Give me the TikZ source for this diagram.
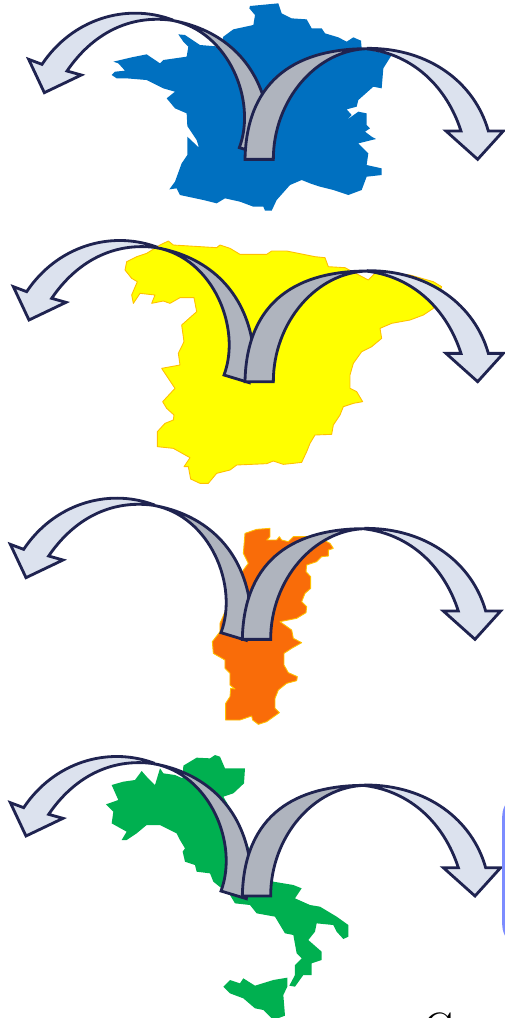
\documentclass[tikz,border=0pt]{standalone}
\usepackage{tikz}
\definecolor{arrowline}{HTML}{1F2350}
\definecolor{arrowlight}{HTML}{DCE2EE}
\definecolor{arrowgray}{HTML}{AFB4BE}
\definecolor{francefill}{HTML}{0070C0}
\definecolor{spainfill}{rgb}{1,1,0}
\definecolor{spainedge}{HTML}{FFC000}
\definecolor{portugalfill}{HTML}{F96C09}
\definecolor{italyfill}{HTML}{00B050}
\definecolor{boxblue}{HTML}{7C8CFF}
\tikzset{
  arrowedge/.style={draw=arrowline,line width=0.8pt,line join=miter},
  lightpart/.style={arrowedge,fill=arrowlight},
  graypart/.style={arrowedge,fill=arrowgray},
  mapshape/.style={line width=0.25pt,line join=round}
}
% the two curved arrows, both in zoomed pixel units
\newcommand{\leftarc}[1]{
  \begin{scope}[shift={#1}]
    \draw[lightpart] (470,66) .. controls (330,15) and (170,65) .. (80,200) -- (40,185) -- (87,285)
      -- (198,232) -- (155,220) .. controls (230,110) and (340,50) .. (470,68) -- cycle;
    \draw[graypart] (672,450) .. controls (725,310) and (640,100) .. (470,68)
      .. controls (620,95) and (725,190) .. (755,340) -- (748,473) -- cycle;
  \end{scope}}
\newcommand{\rightarc}[1]{
  \begin{scope}[shift={#1}]
    \draw[lightpart] (1105,145) .. controls (1290,145) and (1425,250) .. (1465,393) -- (1510,393) -- (1433,478)
      -- (1338,393) -- (1383,393) .. controls (1340,260) and (1240,165) .. (1105,147) -- cycle;
    \draw[graypart] (735,478) .. controls (740,230) and (900,145) .. (1105,146)
      .. controls (950,148) and (820,300) .. (820,478) -- cycle;
  \end{scope}}

\begin{document}
\begin{tikzpicture}[x=0.00333cm,y=-0.00333cm]
  \useasboundingbox (0,0) rectangle (1515,3054);
  \clip (0,0) rectangle (1515,3054);

  % france
  \fill[francefill,mapshape] (750,18) -- (835,10) -- (845,40) -- (875,55) -- (920,58) -- (935,85) -- (965,85)
    -- (975,100) -- (1015,112) -- (1040,125) -- (1060,112) -- (1083,122) -- (1085,145) -- (1175,165) -- (1150,205)
    -- (1145,265) -- (1120,260) -- (1075,300) -- (1070,320) -- (1040,328) -- (1055,345) -- (1040,360) -- (1075,335)
    -- (1100,340) -- (1100,375) -- (1110,385) -- (1095,395) -- (1115,410) -- (1128,417) -- (1075,430) -- (1105,460)
    -- (1100,495) -- (1145,505) -- (1145,525) -- (1100,530) -- (1085,570) -- (1045,585) -- (1000,570) -- (960,560)
    -- (930,550) -- (905,540) -- (870,555) -- (830,600) -- (815,632) -- (795,632) -- (790,620) -- (760,620)
    -- (720,605) -- (675,595) -- (650,610) -- (610,600) -- (540,585) -- (530,565) -- (508,568) -- (525,545)
    -- (545,490) -- (562,465) -- (562,410) -- (597,443) -- (590,420) -- (562,378) -- (560,340) -- (525,325)
    -- (500,295) -- (525,275) -- (490,265) -- (440,240) -- (380,235) -- (350,235) -- (335,225) -- (345,215)
    -- (375,212) -- (355,190) -- (340,185) -- (395,172) -- (440,163) -- (480,190) -- (490,180) -- (560,170)
    -- (565,140) -- (550,125) -- (535,103) -- (555,105) -- (600,135) -- (660,140) -- (670,110) -- (700,88)
    -- (760,75) -- (765,45) -- (748,25) -- cycle;
  \leftarc{(46,-7)}
  \rightarc{(0,0)}

  % spain
  \begin{scope}[shift={(0,675)}]
    \filldraw[fill=spainfill,draw=spainedge,mapshape] (480,60) -- (505,48) -- (520,60) -- (650,68) -- (660,60) -- (690,70)
      -- (720,88) -- (800,88) -- (815,78) -- (860,78) -- (945,95) -- (975,98) -- (985,125) -- (1035,128)
      -- (1105,165) -- (1130,140) -- (1230,150) -- (1300,170) -- (1325,185) -- (1300,250) -- (1270,270) -- (1230,285)
      -- (1175,295) -- (1140,310) -- (1145,340) -- (1115,365) -- (1085,380) -- (1060,415) -- (1050,450) -- (1050,490)
      -- (1070,500) -- (1088,530) -- (1060,535) -- (1030,545) -- (1020,570) -- (1000,600) -- (995,628) -- (945,630)
      -- (930,655) -- (920,680) -- (905,712) -- (880,715) -- (850,718) -- (820,708) -- (800,716) -- (710,720)
      -- (690,735) -- (650,745) -- (625,775) -- (600,775) -- (572,762) -- (565,725) -- (552,725) -- (570,698)
      -- (520,670) -- (472,665) -- (472,620) -- (495,595) -- (520,585) -- (522,570) -- (500,550) -- (488,530)
      -- (525,490) -- (505,460) -- (485,430) -- (540,420) -- (535,385) -- (552,350) -- (545,300) -- (590,260)
      -- (582,218) -- (540,218) -- (510,235) -- (490,228) -- (455,235) -- (465,210) -- (420,205) -- (400,235)
      -- (395,210) -- (412,170) -- (395,160) -- (375,135) -- (380,110) -- (410,95) -- (440,85) -- cycle;
  \end{scope}
  \leftarc{(0,675)}
  \rightarc{(0,667)}

  % portugal
  \begin{scope}[shift={(0,1470)}]
    \filldraw[fill=portugalfill,draw=spainedge,mapshape] (735,130) -- (770,118) -- (810,115) -- (810,140) -- (800,150)
      -- (830,150) -- (838,140) -- (845,150) -- (865,155) -- (880,140) -- (950,140) -- (990,160) -- (1000,175)
      -- (985,180) -- (985,198) -- (965,200) -- (950,215) -- (920,225) -- (918,245) -- (932,260) -- (932,295)
      -- (915,310) -- (905,335) -- (920,350) -- (918,368) -- (890,385) -- (840,395) -- (875,420) -- (880,445)
      -- (905,458) -- (875,475) -- (852,490) -- (852,525) -- (865,548) -- (892,560) -- (890,572) -- (860,580)
      -- (835,600) -- (825,625) -- (825,655) -- (838,668) -- (800,695) -- (775,703) -- (758,690) -- (755,678)
      -- (720,690) -- (677,690) -- (677,640) -- (690,620) -- (692,595) -- (705,597) -- (690,585) -- (690,550)
      -- (675,535) -- (675,510) -- (640,490) -- (637,455) -- (660,425) -- (660,400) -- (730,240) -- (745,220)
      -- (730,190) -- cycle;
  \end{scope}
  \leftarc{(-9,1448)}
  \rightarc{(-8,1440)}

  % italy
  \begin{scope}[shift={(0,2235)}]
    \fill[italyfill,mapshape] (550,62) -- (590,38) -- (630,40) -- (645,30) -- (660,35) -- (675,70) -- (735,70)
      -- (732,115) -- (700,145) -- (670,155) -- (720,240) -- (745,305) -- (755,330) -- (820,410) -- (880,420)
      -- (905,430) -- (885,460) -- (930,480) -- (960,485) -- (1010,515) -- (1045,540) -- (1045,575) -- (1030,582)
      -- (1010,560) -- (1000,540) -- (950,535) -- (945,560) -- (925,585) -- (965,620) -- (965,645) -- (935,655)
      -- (935,690) -- (910,690) -- (885,725) -- (868,722) -- (885,690) -- (885,660) -- (905,640) -- (890,625)
      -- (880,570) -- (855,565) -- (825,515) -- (770,505) -- (750,480) -- (705,475) -- (690,450) -- (640,410)
      -- (630,385) -- (590,380) -- (585,360) -- (555,350) -- (548,320) -- (555,310) -- (540,285) -- (530,265)
      -- (480,240) -- (440,240) -- (410,265) -- (380,285) -- (365,285) -- (380,260) -- (335,235) -- (340,200)
      -- (318,178) -- (355,165) -- (335,120) -- (370,110) -- (405,105) -- (425,78) -- (440,95) -- (465,120)
      -- (480,70) -- (490,85) -- (525,90) -- (548,100) -- cycle;
    \fill[italyfill,mapshape] (670,725) -- (690,705) -- (720,715) -- (730,700) -- (765,722) -- (820,705) -- (862,698)
      -- (862,725) -- (850,750) -- (855,812) -- (820,825) -- (790,795) -- (765,790) -- (730,760) -- (690,745) -- cycle;
  \end{scope}
  \leftarc{(-9,2223)}
  \rightarc{(-8,2210)}

  % box and letter cut by the page edge
  \draw[draw=boxblue,fill=white,line width=1pt,rounded corners=6pt] (1512,2385) rectangle (1800,2838);
  \node[font=\large] (letter) at (1314,3083) {C};
\end{tikzpicture}
\end{document}
